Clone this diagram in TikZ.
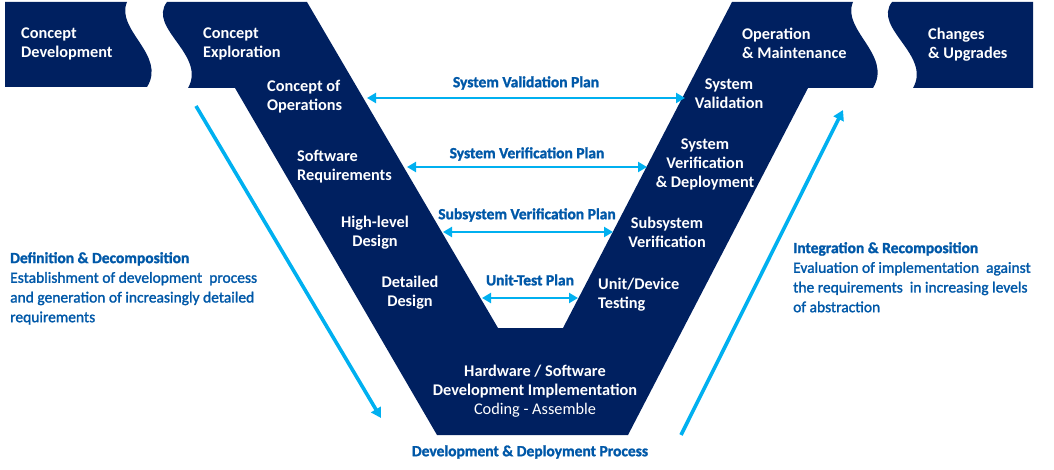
\documentclass[tikz,border=0pt]{standalone}
\usepackage{fontspec}
\setmainfont{Carlito}
\newfontfamily\glowfont[FakeBold=1.5]{Carlito}
\usepackage{tikz}
\usetikzlibrary{arrows.meta}

\definecolor{vnavy}{RGB}{0,32,96}
\definecolor{vcyan}{RGB}{0,176,240}
\definecolor{vblue}{RGB}{0,88,168}

\tikzset{
    phase/.style={text=white, font=\bfseries\fontsize{16.3}{18.7}\selectfont, inner sep=0pt},
    plan/.style={text=vblue, font=\glowfont\bfseries\fontsize{15.5}{18}\selectfont, inner sep=0pt},
    note/.style={text=vblue, font=\glowfont\fontsize{15.5}{19.7}\selectfont, inner sep=0pt,
        align=left, anchor=north west},
    planarrow/.style={vcyan, line width=2.8pt,
        {Triangle[length=9pt,width=10pt]}-{Triangle[length=9pt,width=10pt]}},
    flowarrow/.style={vcyan, line width=3.6pt, -{Triangle[length=10pt,width=11pt]}}
}

\begin{document}
\begin{tikzpicture}[x=1pt, y=-1pt]
    \useasboundingbox (0,0) rectangle (1054,470);

    \fill[vnavy]
        (5,2)
        -- (127,2)
        .. controls (115,30) and (167,55) .. (147,87)
        -- (5,87)
        -- cycle;
    \fill[vnavy]
        (167,2)
        -- (307,2)
        -- (498,328)
        -- (563,328)
        -- (732,2)
        -- (853,2)
        .. controls (841,30) and (893,55) .. (873,88)
        -- (808,88)
        -- (628,435)
        -- (437,435)
        -- (235,88)
        -- (188,88)
        .. controls (207,55) and (147,28) .. (167,2)
        -- cycle;
    \fill[vnavy]
        (892,2)
        -- (1033,2)
        -- (1033,88)
        -- (913,88)
        .. controls (932,55) and (872,28) .. (892,2)
        -- cycle;

    \node[phase, anchor=north west, align=left] (cdev) at (21,28) {Concept\\Development};
    \node[phase, anchor=north west, align=left] (cexp) at (203,28) {Concept\\Exploration};
    \node[phase, anchor=north west, align=left] (conops) at (267,80) {Concept of\\Operations};
    \node[phase, anchor=north west, align=left] (swreq) at (297,150) {Software\\Requirements};
    \node[phase, anchor=north, align=center] (hldes) at (375,216) {High-level\\Design};
    \node[phase, anchor=north, align=center] (ddes) at (410,276) {Detailed\\Design};
    \node[phase, anchor=north, align=center] (impl) at (535,365)
        {Hardware / Software\\Development Implementation\\{\mdseries Coding - Assemble}};
    \node[phase, anchor=north west, align=left] (unit) at (598,278) {Unit/Device\\Testing};
    \node[phase, anchor=north, align=center] (subver) at (667,217) {Subsystem\\Verification};
    \node[phase, anchor=north, align=center] (sysver) at (705,139) {System\\Verification\\\& Deployment};
    \node[phase, anchor=north, align=center] (sysval) at (729,79) {System\\Validation};
    \node[phase, anchor=north west, align=left] (opmain) at (742,28) {Operation\\\& Maintenance};
    \node[phase, anchor=north west, align=left] (chgup) at (928,28) {Changes\\\& Upgrades};

    \node[plan] (valplan) at (526,83) {System Validation Plan};
    \node[plan] (verplan) at (527,154) {System Verification Plan};
    \node[plan] (subplan) at (527,215) {Subsystem Verification Plan};
    \node[plan] (utplan) at (530,280) {Unit-Test Plan};
    \node[plan] (process) at (530,452) {Development \& Deployment Process};

    \node[note] (decomp) at (10,252) {\textbf{Definition \& Decomposition}\\Establishment of development\ \ process\\and generation of increasingly detailed\\requirements};
    \node[note] (recomp) at (793,242) {\textbf{Integration \& Recomposition}\\Evaluation of implementation\ \ against\\the requirements\ \ in increasing levels\\of abstraction};

    \coordinate (valL) at (367,98);
    \coordinate (valR) at (685,98);
    \coordinate (verL) at (407,167);
    \coordinate (verR) at (647,167);
    \coordinate (subL) at (443,232);
    \coordinate (subR) at (613,232);
    \coordinate (utL) at (482,298);
    \coordinate (utR) at (578,298);
    \coordinate (decTop) at (196,106);
    \coordinate (decEnd) at (381,418);
    \coordinate (recBot) at (681,435);
    \coordinate (recEnd) at (843,110);

    \draw[planarrow] (valL) -- (valR);
    \draw[planarrow] (verL) -- (verR);
    \draw[planarrow] (subL) -- (subR);
    \draw[planarrow] (utL) -- (utR);
    \draw[flowarrow] (decTop) -- (decEnd);
    \draw[flowarrow] (recBot) -- (recEnd);
\end{tikzpicture}
\end{document}
